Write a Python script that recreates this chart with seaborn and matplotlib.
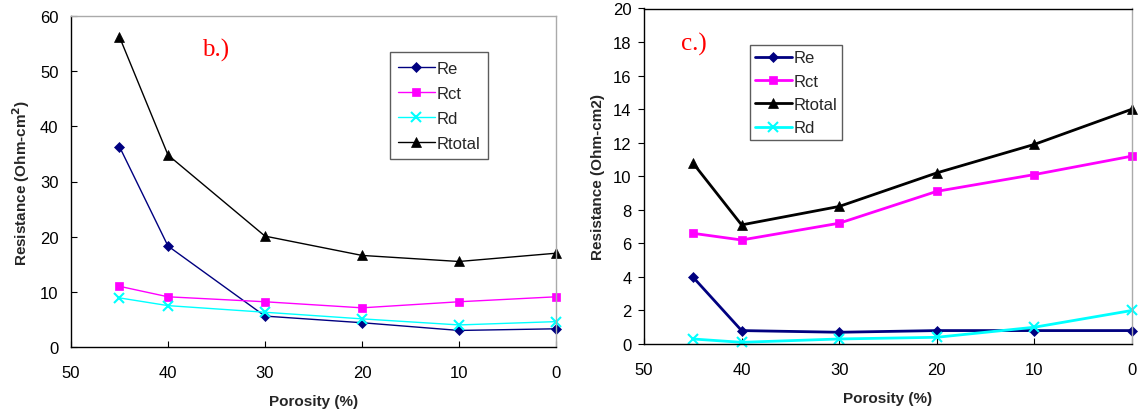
import numpy as np
import pandas as pd
import matplotlib
matplotlib.use('Agg')
import matplotlib.pyplot as plt
import seaborn as sns

# porosity (%) values
porosity = [45, 40, 30, 20, 10, 0]

# panel b.)
b_re = [36.3, 18.3, 5.6, 4.4, 3.0, 3.3]
b_rct = [11.0, 9.1, 8.2, 7.1, 8.2, 9.1]
b_rd = [8.9, 7.5, 6.3, 5.1, 4.0, 4.6]
b_rtotal = [56.2, 34.8, 20.1, 16.6, 15.5, 17.0]

# panel c.)
c_re = [4.0, 0.8, 0.7, 0.8, 0.8, 0.8]
c_rct = [6.6, 6.2, 7.2, 9.1, 10.1, 11.2]
c_rtotal = [10.8, 7.1, 8.2, 10.2, 11.9, 14.0]
c_rd = [0.3, 0.1, 0.3, 0.4, 1.0, 2.0]

sns.set_theme(style='white')
plt.rcParams['font.family'] = ['Liberation Sans', 'DejaVu Sans']

styles = {
    'Re': dict(color='#000080', marker='D', ms=5),
    'Rct': dict(color='#FF00FF', marker='s', ms=6),
    'Rd': dict(color='#00FFFF', marker='x', ms=7),
    'Rtotal': dict(color='black', marker='^', ms=7),
}

fig = plt.figure(figsize=(11.39, 4.14), dpi=100)
ax1 = fig.add_axes([71 / 1139, 1 - 348 / 414, (556 - 71) / 1139, (348 - 17) / 414])
ax2 = fig.add_axes([644 / 1139, 1 - 345 / 414, (1132 - 644) / 1139, (345 - 9.5) / 414])


def draw(ax, series, lw, ydir):
    for name, vals in series:
        st = styles[name]
        df = pd.DataFrame({'x': porosity, 'y': vals})
        sns.lineplot(data=df, x='x', y='y', ax=ax, color=st['color'],
                     marker=st['marker'], markersize=st['ms'],
                     markeredgecolor=st['color'],
                     markeredgewidth=1.5 if st['marker'] == 'x' else 0.5,
                     linewidth=lw, label=name, estimator=None, clip_on=False)
    ax.set_xlim(50, 0)
    ax.set_xticks([50, 40, 30, 20, 10, 0])
    ax.set_xlabel('Porosity (%)', fontsize=11, fontweight='bold', labelpad=10)
    ax.tick_params(axis='x', labelsize=12, length=4.5, width=0.8, direction='in',
                   colors='black', bottom=True, pad=13)
    ax.tick_params(axis='y', labelsize=12, length=4.5, width=0.8, direction=ydir,
                   colors='black', left=True, pad=9 if ydir == 'in' else 4.5)
    for s in ['left', 'bottom']:
        ax.spines[s].set_color('black')
        ax.spines[s].set_linewidth(1.0)


draw(ax1, [('Re', b_re), ('Rct', b_rct), ('Rd', b_rd), ('Rtotal', b_rtotal)], 1.0, 'in')
ax1.set_ylim(0, 60)
ax1.set_yticks(range(0, 61, 10))
ax1.set_ylabel('Resistance (Ohm-cm$^\\mathbf{2}$)', fontsize=11, fontweight='bold', labelpad=6)
for s in ['top', 'right']:
    ax1.spines[s].set_color('#aaaaaa')
    ax1.spines[s].set_linewidth(1.0)
ax1.text(0.27, 0.9, 'b.)', transform=ax1.transAxes, color='red', fontsize=18,
         family='Liberation Serif', va='center')
leg1 = ax1.legend(loc='upper left', bbox_to_anchor=(0.64, 0.915), fontsize=12,
                  frameon=True, fancybox=False, edgecolor='#333333',
                  handlelength=2.2, handletextpad=0.1, labelspacing=0.6, borderpad=0.5)
leg1.get_frame().set_linewidth(1.0)

draw(ax2, [('Re', c_re), ('Rct', c_rct), ('Rtotal', c_rtotal), ('Rd', c_rd)], 2.0, 'out')
ax2.set_ylim(0, 20)
ax2.set_yticks(range(0, 21, 2))
ax2.set_ylabel('Resistance (Ohm-cm2)', fontsize=11, fontweight='bold', labelpad=6)
ax2.spines['top'].set_color('black')
ax2.spines['top'].set_linewidth(1.0)
ax2.spines['right'].set_color('#aaaaaa')
ax2.spines['right'].set_linewidth(1.0)
ax2.text(0.075, 0.895, 'c.)', transform=ax2.transAxes, color='red', fontsize=18,
         family='Liberation Serif', va='center')
leg2 = ax2.legend(loc='upper left', bbox_to_anchor=(0.2, 0.915), fontsize=12,
                  frameon=True, fancybox=False, edgecolor='#333333',
                  handlelength=2.2, handletextpad=0.1, labelspacing=0.5, borderpad=0.3)
leg2.get_frame().set_linewidth(1.0)

fig.savefig('out.png', dpi=100)
